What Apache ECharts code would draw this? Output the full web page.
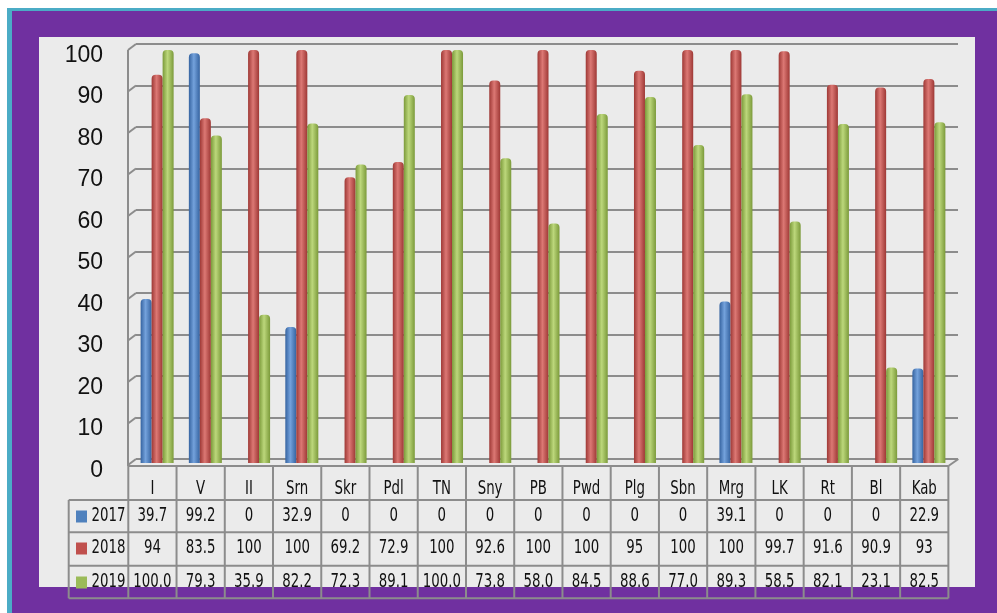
<!DOCTYPE html>
<html>
<head>
<meta charset="utf-8">
<script src="https://cdn.jsdelivr.net/npm/echarts@6/dist/echarts.min.js"></script>
<style>
  html, body { margin: 0; padding: 0; background: #ffffff; }
  #chart { width: 997px; height: 613px; }
</style>
</head>
<body>
<div id="chart"></div>
<script>
// Categories and yearly percentages
const categories = ['I', 'V', 'II', 'Srn', 'Skr', 'Pdl', 'TN', 'Sny', 'PB', 'Pwd', 'Plg', 'Sbn', 'Mrg', 'LK', 'Rt', 'Bl', 'Kab'];
const years = ['2017', '2018', '2019'];
const values2017 = [39.7, 99.2, 0, 32.9, 0, 0, 0, 0, 0, 0, 0, 0, 39.1, 0, 0, 0, 22.9];
const values2018 = [94, 83.5, 100, 100, 69.2, 72.9, 100, 92.6, 100, 100, 95, 100, 100, 99.7, 91.6, 90.9, 93];
const values2019 = [100.0, 79.3, 35.9, 82.2, 72.3, 89.1, 100.0, 73.8, 58.0, 84.5, 88.6, 77.0, 89.3, 58.5, 82.1, 23.1, 82.5];
const yTicks = [0, 10, 20, 30, 40, 50, 60, 70, 80, 90, 100];

const seriesValues = [values2017, values2018, values2019];
const seriesDecimals = [null, null, 1]; // 2019 row is printed with one decimal
const palette = [
  { base: '#4f81bd', dark: '#3563a0', light: '#74a2dc' },
  { base: '#c0504d', dark: '#9e3835', light: '#dc7874' },
  { base: '#9bbb59', dark: '#7b9a3a', light: '#bcd77b' }
];

const chart = echarts.init(document.getElementById('chart'), null, { renderer: 'canvas' });

function cylinder(c) {
  return new echarts.graphic.LinearGradient(0, 0, 1, 0, [
    { offset: 0, color: c.dark },
    { offset: 0.45, color: c.light },
    { offset: 1, color: c.dark }
  ]);
}

const GRID_COLOR = '#8c8c8c';
const TABLE_FONT = "'Liberation Sans Narrow', 'DejaVu Sans Condensed', 'Arial Narrow', sans-serif";

const option = {
  backgroundColor: '#ffffff',
  animation: false,
  grid: [
    // bars
    { left: 133, right: 44, top: 50, bottom: 150 },
    // back wall carrying the gridlines
    { left: 136, right: 39, top: 44, bottom: 154 }
  ],
  xAxis: [
    { gridIndex: 0, type: 'category', data: categories, show: false },
    { gridIndex: 1, type: 'category', data: categories, show: false }
  ],
  yAxis: [
    { gridIndex: 0, type: 'value', min: 0, max: 100, interval: 10, show: false },
    {
      gridIndex: 1, type: 'value', min: 0, max: 100, interval: 10,
      axisLine: { show: false }, axisTick: { show: false },
      splitLine: { show: true, lineStyle: { color: GRID_COLOR, width: 2 } },
      axisLabel: {
        margin: 33, color: '#111', fontSize: 23,
        fontFamily: "'Liberation Sans', Arial, sans-serif",
        verticalAlign: 'top',
        formatter: v => (yTicks.indexOf(v) >= 0 ? String(v) : '')
      }
    }
  ],
  series: years.map((y, i) => ({
    name: y,
    type: 'bar',
    xAxisIndex: 0, yAxisIndex: 0,
    data: seriesValues[i],
    barWidth: 11,
    barGap: '0%',
    z: 5,
    itemStyle: { color: cylinder(palette[i]), borderRadius: [4, 4, 0, 0] }
  }))
};
chart.setOption(option);

// ---- frame, floor and data table ----
const g = [];
// page frame
g.push({ type: 'rect', z: -30, silent: true, shape: { x: 7, y: 8, width: 990, height: 605 }, style: { fill: '#4bacc6' } });
g.push({ type: 'rect', z: -29, silent: true, shape: { x: 12, y: 11, width: 985, height: 602 }, style: { fill: '#7030a0' } });
g.push({ type: 'rect', z: -28, silent: true, shape: { x: 39, y: 37, width: 936, height: 550 }, style: { fill: '#ebebeb' } });

const lineStyle = { stroke: GRID_COLOR, lineWidth: 2 };
const wallX = 136, sideX = 128;
// depth diagonals on the left wall, one per gridline
yTicks.forEach(v => {
  const gy = chart.convertToPixel({ yAxisIndex: 1 }, v);
  g.push({ type: 'line', z: 1, silent: true, shape: { x1: sideX, y1: gy + 6, x2: wallX, y2: gy }, style: lineStyle });
});
const topY = chart.convertToPixel({ yAxisIndex: 1 }, 100);
const floorBack = chart.convertToPixel({ yAxisIndex: 1 }, 0);
const floorFront = floorBack + 7;
const tableX0 = 128.3, colW = 48.24, tableX1 = tableX0 + colW * categories.length;
g.push({ type: 'line', z: 1, silent: true, shape: { x1: sideX, y1: topY + 6, x2: sideX, y2: floorFront }, style: lineStyle });
g.push({ type: 'line', z: 6, silent: true, shape: { x1: sideX, y1: floorFront, x2: tableX1, y2: floorFront }, style: lineStyle });
g.push({ type: 'line', z: 6, silent: true, shape: { x1: tableX1, y1: floorFront, x2: tableX1 + 10, y2: floorBack }, style: lineStyle });

// table grid
const rowTops = [floorFront, 500, 532.3, 565.7, 598.3];
const legendX = 68.7;
for (let k = 0; k <= categories.length; k++) {
  const x = tableX0 + k * colW;
  g.push({ type: 'line', z: 10, silent: true, shape: { x1: x, y1: rowTops[0], x2: x, y2: rowTops[4] }, style: lineStyle });
}
g.push({ type: 'line', z: 10, silent: true, shape: { x1: legendX, y1: rowTops[1], x2: legendX, y2: rowTops[4] }, style: lineStyle });
for (let r = 1; r <= 4; r++) {
  g.push({ type: 'line', z: 10, silent: true, shape: { x1: legendX, y1: rowTops[r], x2: tableX1, y2: rowTops[r] }, style: lineStyle });
}

function cellText(txt, cx, cy, align) {
  return {
    type: 'text', z: 11, silent: true, x: cx, y: cy, scaleX: 0.78,
    style: { text: txt, x: 0, y: 0, align: align || 'center', verticalAlign: 'middle', fill: '#111', font: '19px ' + TABLE_FONT }
  };
}
// category header
categories.forEach((c, i) => {
  g.push(cellText(c, tableX0 + (i + 0.5) * colW, 489.5));
});
// value rows with legend keys
const rowCenters = [516.5, 548.5, 582.5];
years.forEach((y, r) => {
  const cy = rowCenters[r];
  g.push({ type: 'rect', z: 11, silent: true, shape: { x: 76, y: cy - 6, width: 11, height: 12 }, style: { fill: palette[r].base } });
  g.push(cellText(y, 91.5, cy, 'left'));
  seriesValues[r].forEach((v, i) => {
    const txt = seriesDecimals[r] == null ? String(v) : v.toFixed(seriesDecimals[r]);
    g.push(cellText(txt, tableX0 + (i + 0.5) * colW, cy));
  });
});

chart.setOption({ graphic: { elements: g } });
</script>
</body>
</html>
